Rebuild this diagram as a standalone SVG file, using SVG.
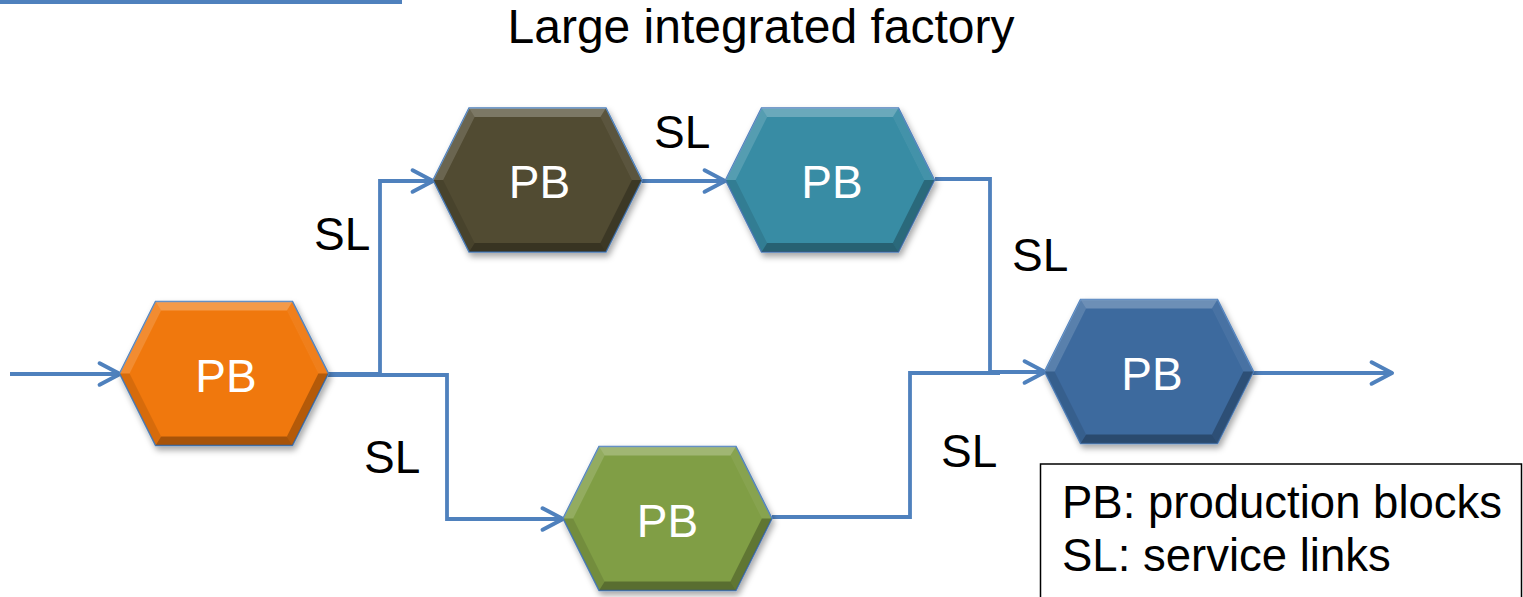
<svg xmlns="http://www.w3.org/2000/svg" xmlns:xlink="http://www.w3.org/1999/xlink" width="1523" height="597" viewBox="0 0 1523 597">
<style>
.t{font-family:"Liberation Sans",Arial,sans-serif;fill:#000}
.pb{font-family:"Liberation Sans",Arial,sans-serif;font-size:46px;fill:#fff;text-anchor:middle}
.sl{font-size:46px}
.conn{fill:none;stroke:#4F81BD;stroke-width:3.8;stroke-linejoin:miter}
</style>
<defs>
<marker id="arr" markerUnits="userSpaceOnUse" markerWidth="30" markerHeight="30" viewBox="-24 -14 28 28" refX="0" refY="0" orient="auto">
<path d="M-19,-10 L0,0 L-19,10" fill="none" stroke="#4F81BD" stroke-width="3.8" stroke-linecap="round" stroke-linejoin="round"/>
</marker>
<filter id="sh" x="-20%" y="-20%" width="140%" height="150%">
<feDropShadow dx="2" dy="4" stdDeviation="3" flood-color="#000" flood-opacity="0.35"/>
</filter>
<g id="hex">
<polygon points="-104.5,0 -68.5,-72 68.5,-72 104.5,0 68.5,72 -68.5,72" fill="currentColor" stroke="#4F81BD" stroke-width="1.5" filter="url(#sh)"/>
<polygon points="-68.5,-72 68.5,-72 62.9,-63 -62.9,-63" fill="#fff" opacity="0.25"/>
<polygon points="-104.5,0 -68.5,-72 -62.9,-63 -94.4,0" fill="#fff" opacity="0.15"/>
<polygon points="68.5,-72 104.5,0 94.4,0 62.9,-63" fill="#fff" opacity="0.06"/>
<polygon points="104.5,0 68.5,72 62.9,63 94.4,0" fill="#000" opacity="0.25"/>
<polygon points="68.5,72 -68.5,72 -62.9,63 62.9,63" fill="#000" opacity="0.3"/>
<polygon points="-68.5,72 -104.5,0 -94.4,0 -62.9,63" fill="#000" opacity="0.1"/>
</g>
</defs>
<rect x="0" y="0" width="402" height="4" fill="#4F81BD"/>
<text class="t" x="761" y="43" font-size="48" text-anchor="middle">Large integrated factory</text>
<g id="connectors">
<path class="conn" d="M10,374 H120" marker-end="url(#arr)"/>
<path class="conn" d="M328,374 H380 V181 H433" marker-end="url(#arr)"/>
<path class="conn" d="M328,375 H447 V519 H563" marker-end="url(#arr)"/>
<path class="conn" d="M642,181 H725" marker-end="url(#arr)"/>
<path class="conn" d="M935,179 H990 V372 H1045" marker-end="url(#arr)"/>
<path class="conn" d="M772,517 H910 V373 H1000"/>
<path class="conn" d="M1253,373 H1392" marker-end="url(#arr)"/>
</g>
<g id="pb-orange" transform="translate(224,373.5)" color="#F0780F"><use xlink:href="#hex"/><text class="pb" x="2" y="18">PB</text></g>
<g id="pb-olive" transform="translate(537.5,180)" color="#514C30"><use xlink:href="#hex"/><text class="pb" x="2" y="18">PB</text></g>
<g id="pb-teal" transform="translate(830,180)" color="#388CA4"><use xlink:href="#hex"/><text class="pb" x="2" y="18">PB</text></g>
<g id="pb-blue" transform="translate(1149,371.5)" color="#3E6A9E"><use xlink:href="#hex"/><text class="pb" x="3" y="18">PB</text></g>
<g id="pb-green" transform="translate(667.5,518.5)" color="#809E45"><use xlink:href="#hex"/><text class="pb" x="0" y="18">PB</text></g>
<g id="labels">
<text class="t sl" x="314" y="250">SL</text>
<text class="t sl" x="654" y="148">SL</text>
<text class="t sl" x="1012" y="271">SL</text>
<text class="t sl" x="364" y="473">SL</text>
<text class="t sl" x="941" y="467">SL</text>
</g>
<g id="legend">
<rect x="1040.5" y="464" width="481" height="140" fill="#fff" stroke="#000" stroke-width="1.5"/>
<text class="t" x="1062" y="518" font-size="45.5">PB: production blocks</text>
<text class="t" x="1062" y="571" font-size="45.5">SL: service links</text>
</g>
</svg>
